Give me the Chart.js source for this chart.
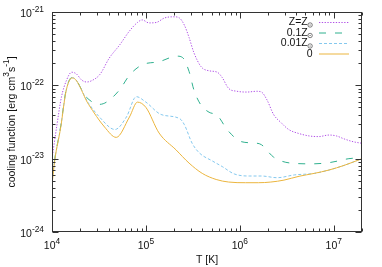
<!DOCTYPE html>
<html><head><meta charset="utf-8">
<script src="https://cdn.jsdelivr.net/npm/chart.js@4"></script>
<style>html,body{margin:0;padding:0;background:#fff}canvas{display:block}</style>
</head><body>
<canvas id="c" width="382" height="267"></canvas>
<script>
// ---- data ----
const xTickValues = [1e4, 1e5, 1e6, 1e7];
const xTickExps = ['4', '5', '6', '7'];
const yTickValues = [1e-24, 1e-23, 1e-22, 1e-21];
const yTickExps = ['-24', '-23', '-22', '-21'];
const seriesLabels = ['Z=Z', '0.1Z', '0.01Z', '0'];
const seriesSun = [true, true, true, false];

const tSolar = [1.0e4, 1.12e4, 1.26e4, 1.43e4, 1.62e4, 1.82e4, 2.07e4, 2.34e4, 2.69e4, 3.24e4, 4.07e4, 5.25e4, 6.68e4, 8.13e4, 9.12e4, 1.08e5, 1.29e5, 1.58e5, 2.0e5, 2.27e5, 2.57e5, 2.88e5, 3.24e5, 3.89e5, 4.68e5, 5.75e5, 6.46e5, 7.59e5, 9.33e5, 1.2e6, 1.51e6, 1.7e6, 1.95e6, 2.29e6, 2.75e6, 3.31e6, 4.27e6, 5.5e6, 6.9e6, 8.9e6, 1.07e7, 1.29e7, 1.62e7, 2.0e7];
const lSolar = [1.0e-23, 2.7e-23, 6.9e-23, 1.18e-22, 1.51e-22, 1.43e-22, 1.18e-22, 1.11e-22, 1.17e-22, 1.41e-22, 2.35e-22, 3.55e-22, 5.5e-22, 7.2e-22, 7.8e-22, 7.1e-22, 7.2e-22, 8.3e-22, 8.6e-22, 8.3e-22, 6.6e-22, 4.5e-22, 2.8e-22, 1.78e-22, 1.58e-22, 1.51e-22, 1.29e-22, 9.1e-23, 8.3e-23, 8.1e-23, 8.3e-23, 8.1e-23, 6.3e-23, 4.0e-23, 3.1e-23, 2.5e-23, 2.2e-23, 2.04e-23, 2.0e-23, 2.1e-23, 2.04e-23, 1.86e-23, 1.7e-23, 1.62e-23];

const tTenth = [1.0e4, 1.07e4, 1.24e4, 1.4e4, 1.54e4, 1.66e4, 2.32e4, 3.2e4, 3.8e4, 5.25e4, 6.7e4, 9.1e4, 1.38e5, 2.15e5, 2.45e5, 2.88e5, 3.24e5, 3.85e5, 4.7e5, 5.75e5, 7.4e5, 1.05e6, 1.48e6, 1.7e6, 2.29e6, 3.5e6, 5.9e6, 9.3e6, 1.45e7, 2.0e7];
const lTenth = [5.5e-24, 1.0e-23, 2.8e-23, 8.1e-23, 1.2e-22, 1.28e-22, 6.9e-23, 5.5e-23, 5.9e-23, 8.7e-23, 1.38e-22, 1.9e-22, 2.1e-22, 2.5e-22, 2.4e-22, 1.55e-22, 8.7e-23, 5.4e-23, 4.3e-23, 3.9e-23, 2.45e-23, 1.7e-23, 1.63e-23, 1.55e-23, 1.05e-23, 8.7e-24, 8.5e-24, 8.9e-24, 1.0e-23, 1.03e-23];

const tHundredth = [1.0e4, 1.07e4, 1.24e4, 1.4e4, 1.54e4, 1.66e4, 2.45e4, 3.2e4, 4.68e4, 6.2e4, 7.9e4, 1.0e5, 1.45e5, 2.3e5, 2.57e5, 3.1e5, 3.7e5, 5.1e5, 6.5e5, 8.7e5, 1.26e6, 1.7e6, 2.5e6, 3.8e6, 6.2e6, 8.9e6, 1.29e7, 2.0e7];
const lHundredth = [5.1e-24, 9.8e-24, 2.75e-23, 8.0e-23, 1.19e-22, 1.27e-22, 5.7e-23, 3.7e-23, 2.5e-23, 3.7e-23, 7.0e-23, 5.9e-23, 4.0e-23, 3.5e-23, 2.9e-23, 1.63e-23, 1.2e-23, 9.3e-24, 7.8e-24, 6.2e-24, 5.8e-24, 5.8e-24, 5.5e-24, 6.0e-24, 6.3e-24, 7.0e-24, 8.1e-24, 1.0e-23];

const tZero = [1.0e4, 1.07e4, 1.24e4, 1.4e4, 1.54e4, 1.66e4, 2.45e4, 3.63e4, 4.83e4, 6.68e4, 8.13e4, 1.0e5, 1.38e5, 2.09e5, 2.88e5, 3.98e5, 5.6e5, 7.6e5, 1.15e6, 1.58e6, 2.14e6, 2.95e6, 4.27e6, 6.2e6, 8.9e6, 1.29e7, 2.0e7];
const lZero = [4.4e-24, 9.5e-24, 2.7e-23, 7.9e-23, 1.18e-22, 1.26e-22, 5.5e-23, 2.7e-23, 1.95e-23, 3.7e-23, 5.9e-23, 5.0e-23, 2.24e-23, 1.32e-23, 8.7e-24, 6.3e-24, 5.2e-24, 4.8e-24, 4.7e-24, 4.7e-24, 4.8e-24, 5.1e-24, 5.75e-24, 6.3e-24, 7.0e-24, 8.1e-24, 1.0e-23];

// ---- styles ----
const FONT = '"Liberation Sans", Arial, sans-serif';
const TXT = '#111';
const colors = ['#b050e6', '#2fb08e', '#84c8ee', '#ebb53e'];
const dashes = [[1.3, 1.5], [7, 9], [3, 2], []];

function pts(t, l) { return t.map((v, i) => ({x: v, y: l[i]})); }
const allT = [tSolar, tTenth, tHundredth, tZero];
const allL = [lSolar, lTenth, lHundredth, lZero];

const datasets = seriesLabels.map((lab, i) => ({
  label: lab,
  data: pts(allT[i], allL[i]),
  borderColor: colors[i],
  borderWidth: 1,
  borderDash: dashes[i],
  pointRadius: 0,
  fill: false,
  cubicInterpolationMode: 'monotone',
  order: 3 - i
}));

function drawPow(ctx, x, yBase, exp, align) {
  ctx.font = '10.5px ' + FONT;
  const wb = ctx.measureText('10').width;
  ctx.font = '8.4px ' + FONT;
  const we = ctx.measureText(exp).width;
  const w = wb + we;
  const x0 = align === 'center' ? x - w / 2 : x - w;
  ctx.textAlign = 'left';
  ctx.textBaseline = 'alphabetic';
  ctx.font = '10.5px ' + FONT;
  ctx.fillText('10', x0, yBase);
  ctx.font = '8.4px ' + FONT;
  ctx.fillText(exp, x0 + wb, yBase - 5.5);
}

function sun(ctx, cx, cy, col) {
  ctx.save();
  ctx.strokeStyle = col; ctx.fillStyle = col; ctx.lineWidth = 0.7;
  ctx.beginPath(); ctx.arc(cx, cy, 2.2, 0, Math.PI * 2); ctx.stroke();
  ctx.beginPath(); ctx.arc(cx, cy, 0.6, 0, Math.PI * 2); ctx.fill();
  ctx.restore();
}

const decor = {
  id: 'decor',
  afterDraw(chart) {
    const ctx = chart.ctx;
    const a = chart.chartArea;
    const xs = chart.scales.x, ys = chart.scales.y;
    ctx.save();
    // border
    ctx.strokeStyle = '#333';
    ctx.lineWidth = 1;
    ctx.strokeRect(a.left + 0.5, a.top + 0.5, a.right - a.left - 1, a.bottom - a.top - 1);
    // ticks
    ctx.beginPath();
    const L = a.left + 0.5, R = a.right - 0.5, T = a.top + 0.5, B = a.bottom - 0.5;
    for (let e = 4; e <= 7; e++) {
      for (let m = 1; m <= 9; m++) {
        const v = m * Math.pow(10, e);
        if (v > xs.max * 1.0001) break;
        const px = Math.round(xs.getPixelForValue(v)) + 0.5;
        const len = m === 1 ? 6 : 3;
        ctx.moveTo(px, B); ctx.lineTo(px, B - len);
        ctx.moveTo(px, T); ctx.lineTo(px, T + len);
      }
    }
    for (let e = -24; e <= -21; e++) {
      for (let m = 1; m <= 9; m++) {
        const v = m * Math.pow(10, e);
        if (v > ys.max * 1.0001) break;
        const py = Math.round(ys.getPixelForValue(v)) + 0.5;
        const len = m === 1 ? 6 : 3;
        ctx.moveTo(L, py); ctx.lineTo(L + len, py);
        ctx.moveTo(R, py); ctx.lineTo(R - len, py);
      }
    }
    ctx.stroke();
    // tick labels
    ctx.fillStyle = TXT;
    xTickValues.forEach((v, i) => {
      drawPow(ctx, xs.getPixelForValue(v), a.bottom + 17, xTickExps[i], 'center');
    });
    yTickValues.forEach((v, i) => {
      drawPow(ctx, 44, ys.getPixelForValue(v) + 5, yTickExps[i], 'right');
    });
    // x title
    ctx.font = '10.5px ' + FONT;
    ctx.textAlign = 'center'; ctx.textBaseline = 'alphabetic';
    ctx.fillText('T [K]', (a.left + a.right) / 2, 263);
    // y title (rotated)
    ctx.save();
    ctx.translate(14.5, 122);
    ctx.rotate(-Math.PI / 2);
    const parts = [['cooling function [erg cm', 0], ['3', 1], ['s', 0], ['-1', 1], [']', 0]];
    let total = 0;
    parts.forEach(p => { ctx.font = (p[1] ? '8.4px ' : '10.5px ') + FONT; total += ctx.measureText(p[0]).width; });
    let cx = -total / 2;
    ctx.textAlign = 'left';
    parts.forEach(p => {
      ctx.font = (p[1] ? '8.4px ' : '10.5px ') + FONT;
      ctx.fillText(p[0], cx, p[1] ? -5.5 : 0);
      cx += ctx.measureText(p[0]).width;
    });
    ctx.restore();
    // legend
    const baselines = [25, 35.5, 46, 56.5];
    const rightEdge = 312.5;
    seriesLabels.forEach((lab, i) => {
      const by = baselines[i];
      ctx.font = '10.5px ' + FONT;
      ctx.fillStyle = TXT;
      ctx.textAlign = 'right';
      if (seriesSun[i]) {
        ctx.fillText(lab, rightEdge - 4.8, by);
        sun(ctx, rightEdge - 2.4, by, '#444');
      } else {
        ctx.fillText(lab, rightEdge, by);
      }
      ctx.save();
      ctx.strokeStyle = colors[i];
      ctx.lineWidth = 1;
      ctx.setLineDash(dashes[i]);
      ctx.beginPath();
      ctx.moveTo(319, by - 2.5);
      ctx.lineTo(349, by - 2.5);
      ctx.stroke();
      ctx.restore();
    });
    ctx.restore();
  }
};

new Chart(document.getElementById('c'), {
  type: 'line',
  data: { datasets },
  options: {
    responsive: false,
    animation: false,
    devicePixelRatio: 1,
    layout: { padding: { left: 52, right: 20, top: 12, bottom: 35 } },
    plugins: { legend: { display: false }, tooltip: { enabled: false } },
    scales: {
      x: { type: 'logarithmic', min: 1e4, max: 2e7, display: false },
      y: { type: 'logarithmic', min: 1e-24, max: 1e-21, display: false }
    }
  },
  plugins: [decor]
});
</script>
</body></html>
